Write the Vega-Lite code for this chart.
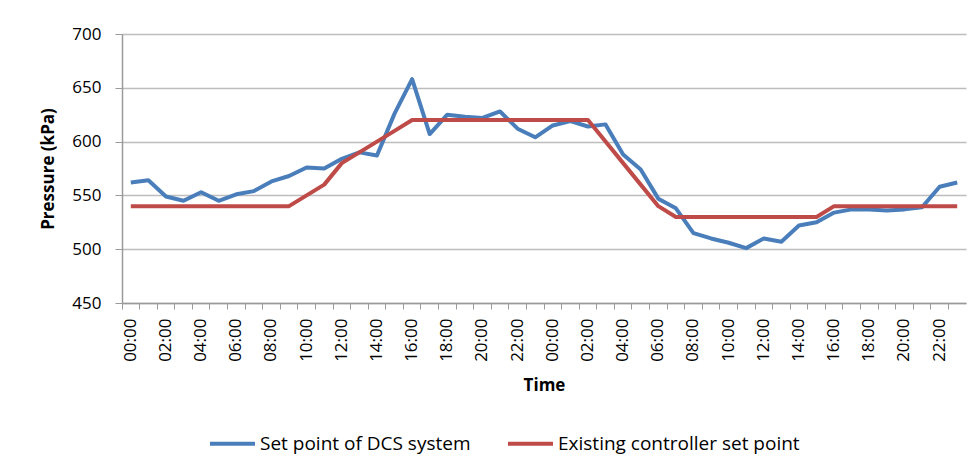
{
  "$schema": "https://vega.github.io/schema/vega-lite/v6.json",
  "width": 844,
  "height": 269,
  "autosize": {"type": "none"},
  "padding": {"left": 122, "top": 34, "right": 11, "bottom": 169},
  "background": "white",
  "config": {
    "view": {"stroke": null},
    "font": "Open Sans"
  },
  "data": {
    "values": [
      {"t": "1|00:00", "dcs": 562, "existing": 540},
      {"t": "1|01:00", "dcs": 564, "existing": 540},
      {"t": "1|02:00", "dcs": 549, "existing": 540},
      {"t": "1|03:00", "dcs": 545, "existing": 540},
      {"t": "1|04:00", "dcs": 553, "existing": 540},
      {"t": "1|05:00", "dcs": 545, "existing": 540},
      {"t": "1|06:00", "dcs": 551, "existing": 540},
      {"t": "1|07:00", "dcs": 554, "existing": 540},
      {"t": "1|08:00", "dcs": 563, "existing": 540},
      {"t": "1|09:00", "dcs": 568, "existing": 540},
      {"t": "1|10:00", "dcs": 576, "existing": 550},
      {"t": "1|11:00", "dcs": 575, "existing": 560},
      {"t": "1|12:00", "dcs": 584, "existing": 580},
      {"t": "1|13:00", "dcs": 590, "existing": 590},
      {"t": "1|14:00", "dcs": 587, "existing": 600},
      {"t": "1|15:00", "dcs": 626, "existing": 610},
      {"t": "1|16:00", "dcs": 658, "existing": 620},
      {"t": "1|17:00", "dcs": 607, "existing": 620},
      {"t": "1|18:00", "dcs": 625, "existing": 620},
      {"t": "1|19:00", "dcs": 623, "existing": 620},
      {"t": "1|20:00", "dcs": 622, "existing": 620},
      {"t": "1|21:00", "dcs": 628, "existing": 620},
      {"t": "1|22:00", "dcs": 612, "existing": 620},
      {"t": "1|23:00", "dcs": 604, "existing": 620},
      {"t": "2|00:00", "dcs": 615, "existing": 620},
      {"t": "2|01:00", "dcs": 619, "existing": 620},
      {"t": "2|02:00", "dcs": 614, "existing": 620},
      {"t": "2|03:00", "dcs": 616, "existing": 600},
      {"t": "2|04:00", "dcs": 588, "existing": 580},
      {"t": "2|05:00", "dcs": 574, "existing": 560},
      {"t": "2|06:00", "dcs": 547, "existing": 540},
      {"t": "2|07:00", "dcs": 538, "existing": 530},
      {"t": "2|08:00", "dcs": 515, "existing": 530},
      {"t": "2|09:00", "dcs": 510, "existing": 530},
      {"t": "2|10:00", "dcs": 506, "existing": 530},
      {"t": "2|11:00", "dcs": 501, "existing": 530},
      {"t": "2|12:00", "dcs": 510, "existing": 530},
      {"t": "2|13:00", "dcs": 507, "existing": 530},
      {"t": "2|14:00", "dcs": 522, "existing": 530},
      {"t": "2|15:00", "dcs": 525, "existing": 530},
      {"t": "2|16:00", "dcs": 534, "existing": 540},
      {"t": "2|17:00", "dcs": 537, "existing": 540},
      {"t": "2|18:00", "dcs": 537, "existing": 540},
      {"t": "2|19:00", "dcs": 536, "existing": 540},
      {"t": "2|20:00", "dcs": 537, "existing": 540},
      {"t": "2|21:00", "dcs": 539, "existing": 540},
      {"t": "2|22:00", "dcs": 558, "existing": 540},
      {"t": "2|23:00", "dcs": 562, "existing": 540}
    ]
  },
  "transform": [
    {"fold": ["dcs", "existing"], "as": ["key", "value"]},
    {"lookup": "key", "from": {"data": {"values": [
      {"key": "dcs", "series": "Set point of DCS system"},
      {"key": "existing", "series": "Existing controller set point"}
    ]}, "key": "key", "fields": ["series"]}}
  ],
  "mark": {"type": "line", "strokeWidth": 4, "strokeJoin": "round", "strokeCap": "butt"},
  "encoding": {
    "x": {
      "field": "t",
      "type": "ordinal",
      "bandPosition": 0.5,
      "scale": {"type": "band", "paddingInner": 0, "paddingOuter": 0},
      "axis": {
        "title": "Time",
        "titleFont": "Open Sans",
        "titleFontSize": 17,
        "titleFontWeight": "bold",
        "titleColor": "#000000",
        "titlePadding": 16,
        "labelExpr": "toNumber(slice(datum.value, 2, 4)) % 2 == 0 ? slice(datum.value, 2) : ''",
        "labelAngle": -90,
        "labelAlign": "right",
        "labelBaseline": "middle",
        "labelFontSize": 17,
        "labelColor": "#000000",
        "labelPadding": 9,
        "labelOverlap": false,
        "bandPosition": 0,
        "tickSize": 6,
        "tickColor": "#9a9a9a",
        "domainColor": "#9a9a9a",
        "domainWidth": 1.5,
        "grid": false
      }
    },
    "y": {
      "field": "value",
      "type": "quantitative",
      "scale": {"domain": [450, 700], "nice": false, "zero": false},
      "axis": {
        "title": "Pressure (kPa)",
        "titleFont": "Open Sans",
        "titleFontSize": 17,
        "titleFontWeight": "bold",
        "titleColor": "#000000",
        "titlePadding": 14,
        "values": [450, 500, 550, 600, 650, 700],
        "labelFontSize": 17,
        "labelColor": "#000000",
        "labelPadding": 14,
        "tickSize": 7,
        "tickColor": "#9a9a9a",
        "domainColor": "#9a9a9a",
        "domainWidth": 1.5,
        "grid": true,
        "gridColor": "#bdbdbd",
        "gridWidth": 1.5
      }
    },
    "color": {
      "field": "series",
      "type": "nominal",
      "sort": ["Set point of DCS system", "Existing controller set point"],
      "scale": {
        "domain": ["Set point of DCS system", "Existing controller set point"],
        "range": ["#4a7ebb", "#be4b48"]
      },
      "legend": {
        "title": null,
        "orient": "none",
        "direction": "horizontal",
        "legendX": 86,
        "legendY": 385,
        "padding": 0,
        "symbolType": "stroke",
        "symbolSize": 2025,
        "symbolStrokeWidth": 4,
        "labelFont": "Open Sans",
        "labelFontSize": 19,
        "labelLimit": 400,
        "labelColor": "#000000",
        "labelOffset": 3,
        "columnPadding": 29
      }
    }
  }
}
